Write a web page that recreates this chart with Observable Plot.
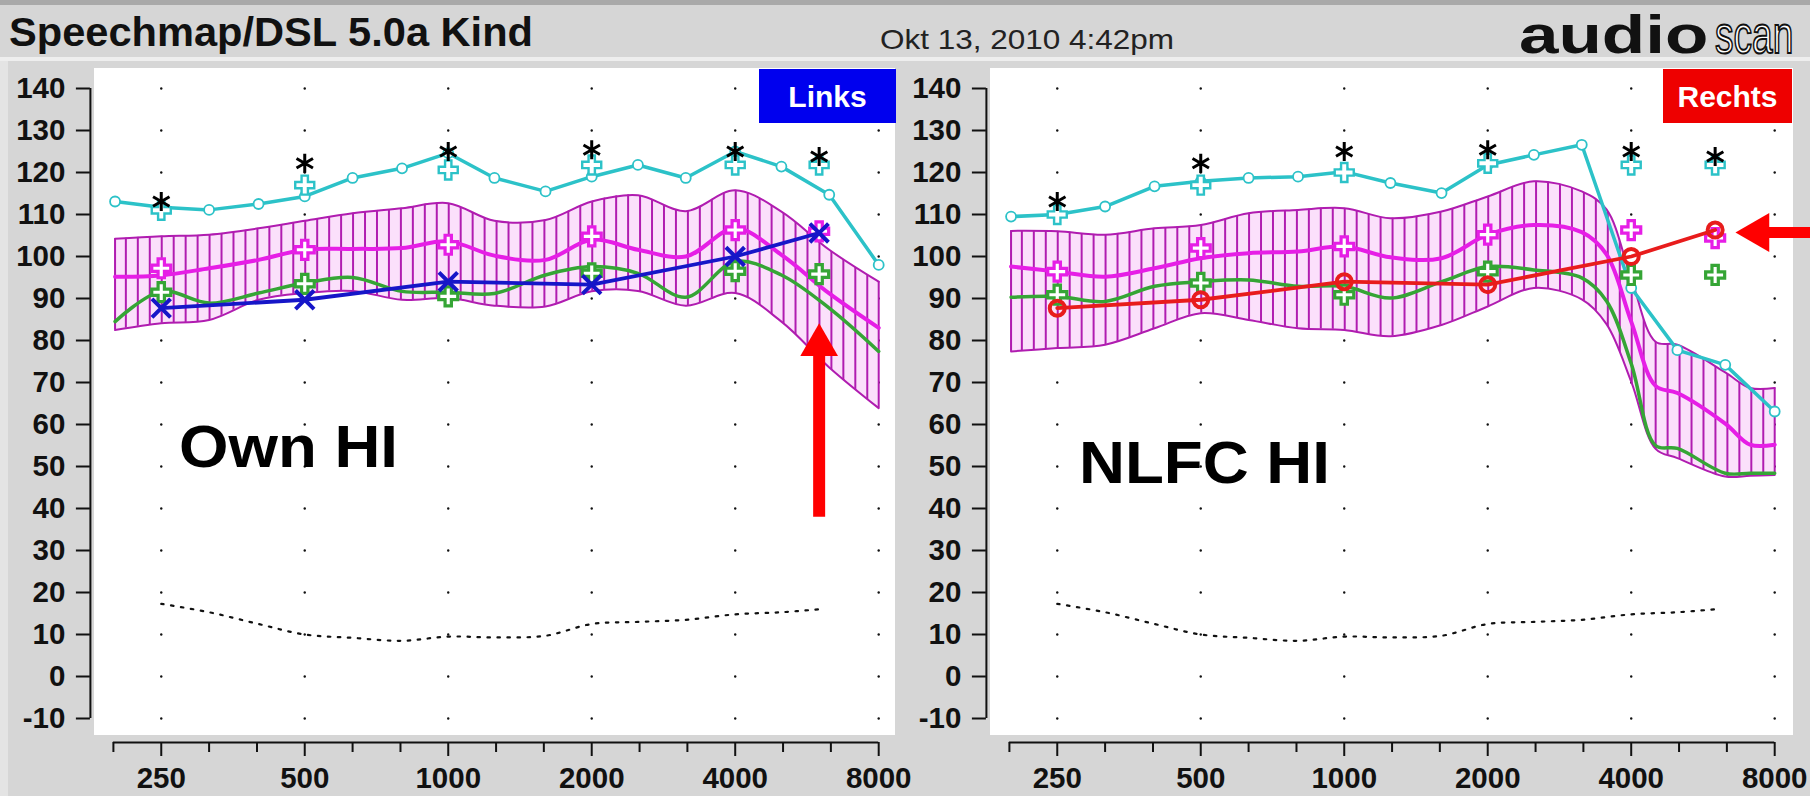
<!DOCTYPE html>
<html><head><meta charset="utf-8">
<script src="https://cdn.jsdelivr.net/npm/d3@7"></script>
<script src="https://cdn.jsdelivr.net/npm/@observablehq/plot@0.6"></script>
<style>
html,body{margin:0;padding:0;}
body{width:1810px;height:796px;overflow:hidden;background:#d6d6d6;position:relative;font-family:"Liberation Sans",Arial,sans-serif;}
.abs{position:absolute;}
svg{display:block;}
</style></head><body>
<div class="abs" style="left:0;top:0;width:1810px;height:5px;background:#a9a9a9"></div>
<div class="abs" style="left:0;top:57px;width:1810px;height:4px;background:#eeeeee"></div>
<div class="abs" style="left:0;top:61px;width:8px;height:735px;background:#e4e4e4"></div>
<div class="abs" style="left:94px;top:68px;width:801px;height:667px;background:#fff"></div>
<div class="abs" style="left:990px;top:68px;width:803px;height:667px;background:#fff"></div>
<div id="left" class="abs" style="left:0;top:62px"></div>
<div id="right" class="abs" style="left:896px;top:62px"></div>
<svg id="overlay" class="abs" style="left:0;top:0;pointer-events:none" width="1810" height="796"></svg>
<script>
// ---------- DATA ----------
// 1/3-octave frequencies (Hz) of the measured curves
const thirdOct = [200, 250, 315, 400, 500, 630, 800, 1000, 1250, 1600, 2000, 2500, 3150, 4000, 5000, 6300, 8000];
const bandFreqR = [200, 250, 315, 400, 500, 630, 800, 1000, 1250, 1600, 2000, 2500, 3150, 3550, 4000, 4500, 5000, 6300, 7100, 8000];
// audiometric frequencies of the markers
const markerFreq = [250, 500, 1000, 2000, 4000, 6000];
// normal-hearing threshold (dotted), both panels
const threshFreq = [250, 315, 400, 500, 630, 800, 1000, 1250, 1600, 2000, 2500, 3150, 4000, 5000, 6000];
const threshold = [17.3, 15.3, 12.5, 10, 9.2, 8.5, 9.5, 9.3, 9.7, 12.5, 13, 13.5, 14.8, 15.3, 16];
// UCL asterisks, both panels
const ucl = [113.1, 122.2, 125, 125.4, 125, 123.8];

// Left panel ("Links", own HI)
const mpoLeft = [113.1, 111.7, 111.1, 112.5, 114.3, 118.7, 121, 124.6, 118.7, 115.5, 119, 121.8, 118.7, 125, 121.4, 114.7, 98];
const bandHiLeft = [104.2, 104.8, 105.2, 106.7, 108.5, 110.3, 111.5, 112.7, 108.5, 108.7, 113.1, 114.6, 110.8, 115.8, 110.7, 101.6, 94];
const bandLoLeft = [82.5, 84.1, 84.9, 89.7, 91.3, 91.8, 89.7, 90.1, 88.3, 88.1, 91.7, 91.8, 88.3, 91.3, 84.5, 73.6, 63.9];
const ltassLeft = [95.2, 95.5, 97.2, 99.2, 101.6, 101.8, 102, 103.6, 100.2, 99.2, 104, 101.6, 100, 106.7, 100.4, 91.2, 83];
const softLeft = [84.5, 91.7, 88.9, 91.3, 93.7, 95, 91.7, 91.5, 91.2, 95.6, 97.6, 96, 90.3, 98.8, 95.6, 87.7, 77.4];
const cyanPlusLeft = [111, 117, 120.6, 121.8, 121.8, 121.8];
const magPlusLeft = [97.2, 101.6, 102.8, 104.8, 106.3, 106];
const greenPlusLeft = [91.5, 93.5, 90.5, 96, 96.5, 95.8];
const aidedLeft = [87.7, 89.7, 94, 93.3, 100, 105.6];

// Right panel ("Rechts", NLFC HI)
const mpoRight = [109.5, 110, 111.9, 116.7, 117.9, 118.7, 119, 120.2, 117.5, 115.1, 121.8, 124.2, 126.6, 92.5, 77.7, 74.2, 63.1];
const bandHiRight = [106.1, 106, 105.2, 106.7, 107.5, 110.3, 111.1, 111.5, 109.1, 110.7, 114.3, 117.9, 115.5, 111.2, 94.8, 79.7, 79, 72.4, 68.7, 68.7];
const bandLoRight = [77.4, 78.2, 79, 82.9, 86.5, 84.9, 82.9, 82.5, 81, 83.7, 88.1, 92.5, 89.8, 83.9, 70.2, 54.2, 52, 47.6, 47.8, 48];
const ltassRight = [97.6, 96.4, 95.2, 97.2, 99.6, 100.8, 101.2, 102.4, 99.8, 99.6, 105.2, 107.5, 105.8, 100.5, 84.5, 69.2, 67.5, 60.2, 55.2, 55.2];
const softRight = [90.3, 90.5, 89.3, 92.9, 94, 94.4, 92.9, 92.9, 90.1, 94, 97.6, 96.8, 94.9, 89.4, 74.5, 55, 54.3, 48.4, 48.4, 48.4];
const cyanPlusRight = [110, 117, 120, 122.2, 121.8, 121.8];
const magPlusRight = [96.4, 102, 102.4, 105.2, 106.3, 104.4];
const greenPlusRight = [90.9, 93.7, 90.9, 96.4, 95.6, 95.6];
const aidedRight = [87.7, 89.7, 94, 93.3, 100, 106.3];

// axes
const xDomain = [198.4, 8000];
const xMajor = [250, 500, 1000, 2000, 4000, 8000];
const xMinor = [198.4, 315, 397, 630, 794, 1260, 1587, 2520, 3175, 5040, 6350];
const yTicks = [-10, 0, 10, 20, 30, 40, 50, 60, 70, 80, 90, 100, 110, 120, 130, 140];

// annotation arrows (data space)
const arrowLeft = [{f: 6000, from: 37.9, to: 76.4, head: 78.9}];
const arrowRight = [{v: 105.7, from: 7790, to: 9700, head: 7380}];

// ---------- STYLE ----------
const CYAN = "#2cc2c8", MAG = "#e61ee6", BAND = "#b01cb0", GREEN = "#35a535",
      BLUE = "#1616c8", RED = "#e81c1c", ARROW = "#ff0000";
const FONT = "'Liberation Sans', Arial, sans-serif";

const rows = (fs, vs) => fs.map((f, i) => ({f, v: vs[i]}));
const grid = xMajor.flatMap(f => yTicks.map(v => ({f, v})));

function addHatch(svg, id) {
  const ns = "http://www.w3.org/2000/svg";
  const defs = document.createElementNS(ns, "defs");
  const p = document.createElementNS(ns, "pattern");
  const step = 143.5 / 12;
  p.setAttribute("id", id);
  p.setAttribute("patternUnits", "userSpaceOnUse");
  p.setAttribute("width", step);
  p.setAttribute("height", 20);
  p.setAttribute("x", 112.9 % step);
  const r = document.createElementNS(ns, "rect");
  r.setAttribute("width", step); r.setAttribute("height", 20); r.setAttribute("fill", "#fbe0fb");
  const l = document.createElementNS(ns, "line");
  l.setAttribute("x1", 1); l.setAttribute("x2", 1); l.setAttribute("y1", 0); l.setAttribute("y2", 20);
  l.setAttribute("stroke", BAND); l.setAttribute("stroke-width", 2);
  p.appendChild(r); p.appendChild(l); defs.appendChild(p);
  svg.insertBefore(defs, svg.firstChild);
}

function panel(o) {
  const band = o.bandFreq.map((f, i) => ({f, lo: o.lo[i], hi: o.hi[i]}));
  const ends = [band[0], band[band.length - 1]];
  const mpo = rows(thirdOct, o.mpo);
  const aided = rows(markerFreq, o.aided);
  const curve = "catmull-rom";
  const marks = [
    Plot.dot(grid, {x: "f", y: "v", r: 1.2, fill: "#111", stroke: null}),
    Plot.areaY(band, {x: "f", y1: "lo", y2: "hi", fill: `url(#${o.id})`, curve}),
    Plot.line(band, {x: "f", y: "hi", stroke: BAND, strokeWidth: 2, curve}),
    Plot.line(band, {x: "f", y: "lo", stroke: BAND, strokeWidth: 2, curve}),
    Plot.ruleX(ends, {x: "f", y1: "lo", y2: "hi", stroke: BAND, strokeWidth: 2}),
    Plot.line(rows(threshFreq, threshold), {x: "f", y: "v", stroke: "#111", strokeWidth: 2.2, strokeDasharray: "2.5,7.5", curve}),
    Plot.line(rows(o.bandFreq, o.soft), {x: "f", y: "v", stroke: GREEN, strokeWidth: 3.5, curve}),
    Plot.line(rows(o.bandFreq, o.ltass), {x: "f", y: "v", stroke: MAG, strokeWidth: 4, curve}),
    Plot.line(mpo, {x: "f", y: "v", stroke: CYAN, strokeWidth: 3.5}),
    Plot.dot(mpo, {x: "f", y: "v", r: 5, stroke: CYAN, fill: "white", strokeWidth: 1.8}),
    Plot.dot(rows(markerFreq, o.cyanPlus), {x: "f", y: "v", symbol: "cross", r: 8, stroke: CYAN, fill: "white", strokeWidth: 2.4}),
    Plot.dot(rows(markerFreq, ucl), {x: "f", y: "v", symbol: "asterisk", r: 9, stroke: "#000", strokeWidth: 3}),
    Plot.dot(rows(markerFreq, o.greenPlus), {x: "f", y: "v", symbol: "cross", r: 8, stroke: GREEN, fill: "white", strokeWidth: 3.2}),
    Plot.dot(rows(markerFreq, o.magPlus), {x: "f", y: "v", symbol: "cross", r: 8, stroke: MAG, fill: "white", strokeWidth: 3.2}),
    Plot.line(aided, {x: "f", y: "v", stroke: o.aidedColor, strokeWidth: 3.8}),
    Plot.dot(aided, {x: "f", y: "v", symbol: o.aidedSymbol, r: o.aidedR, stroke: o.aidedColor, fill: "none", strokeWidth: 4}),
    // axes
    Plot.ruleX([xDomain[0]], {y1: -10, y2: 140, dx: -23, stroke: "#111", strokeWidth: 2}),
    Plot.ruleY([-10], {x1: xDomain[0], x2: xDomain[1], dy: 24, stroke: "#111", strokeWidth: 2}),
    Plot.axisY({ticks: yTicks, anchor: "left", dx: -23, tickSize: 14, tickPadding: 11, strokeWidth: 2,
      fontSize: 29.5, fontWeight: "bold", label: null, tickFormat: d => String(d)}),
    Plot.axisX({ticks: xMinor, anchor: "bottom", dy: 24, tickSize: 10, strokeWidth: 2, text: null, label: null}),
    Plot.axisX({ticks: xMajor, anchor: "bottom", dy: 24, tickSize: 14, strokeWidth: 2, text: null, label: null}),
    Plot.text(xMajor, {x: d => d, text: d => String(d), frameAnchor: "bottom", lineAnchor: "top", dy: 49,
      fontSize: 29.5, fontWeight: "bold", fill: "#111"}),
    ...o.arrows
  ];
  const svg = Plot.plot({
    width: o.width, height: 734,
    marginLeft: 112.9, marginRight: o.width - 878.2, marginTop: 26, marginBottom: 78,
    x: {type: "log", domain: xDomain, range: [112.9, 878.2]},
    y: {domain: [-10, 140], range: [656, 26]},
    style: {background: "transparent", fontFamily: FONT, color: "#111", maxWidth: "none", overflow: "visible"},
    marks
  });
  addHatch(svg, o.id);
  return svg;
}

document.getElementById("left").appendChild(panel({
  id: "hatchL", width: 896, bandFreq: thirdOct,
  mpo: mpoLeft, hi: bandHiLeft, lo: bandLoLeft, ltass: ltassLeft, soft: softLeft,
  cyanPlus: cyanPlusLeft, magPlus: magPlusLeft, greenPlus: greenPlusLeft,
  aided: aidedLeft, aidedColor: BLUE, aidedSymbol: "times", aidedR: 8.5,
  arrows: [
    Plot.ruleX(arrowLeft, {x: "f", y1: "from", y2: "to", stroke: ARROW, strokeWidth: 12}),
    Plot.dot(arrowLeft, {x: "f", y: "head", symbol: "triangle", r: 14, fill: ARROW, stroke: null})
  ]
}));
document.getElementById("right").appendChild(panel({
  id: "hatchR", width: 914, bandFreq: bandFreqR,
  mpo: mpoRight, hi: bandHiRight, lo: bandLoRight, ltass: ltassRight, soft: softRight,
  cyanPlus: cyanPlusRight, magPlus: magPlusRight, greenPlus: greenPlusRight,
  aided: aidedRight, aidedColor: RED, aidedSymbol: "circle", aidedR: 7.5,
  arrows: [
    Plot.ruleY(arrowRight, {y: "v", x1: "from", x2: "to", stroke: ARROW, strokeWidth: 11}),
    Plot.dot(arrowRight, {x: "head", y: "v", symbol: "triangle", rotate: -90, r: 14.5, fill: ARROW, stroke: null})
  ]
}));

// ---------- TEXT OVERLAY ----------
const ov = document.getElementById("overlay");
ov.innerHTML = `
  <g font-family="${FONT}">
    <text x="9" y="46" font-size="41" font-weight="bold" fill="#111" textLength="524" lengthAdjust="spacingAndGlyphs">Speechmap/DSL 5.0a Kind</text>
    <text x="880" y="49" font-size="28" fill="#222" textLength="294" lengthAdjust="spacingAndGlyphs">Okt 13, 2010 4:42pm</text>
    <text transform="translate(1519 53) scale(1.34 1)" font-size="53" font-weight="bold" fill="#111">audio</text>
    <text transform="translate(1715 53) scale(0.7 1)" font-size="53" fill="#fff" stroke="#111" stroke-width="2">scan</text>
    <rect x="759" y="69" width="137" height="54" fill="#0000ee"/>
    <text x="827.5" y="107" font-size="30" font-weight="bold" fill="#fff" text-anchor="middle">Links</text>
    <rect x="1663" y="69" width="129" height="54" fill="#ee0000"/>
    <text x="1727.5" y="107" font-size="30" font-weight="bold" fill="#fff" text-anchor="middle">Rechts</text>
    <text x="179" y="467" font-size="60" font-weight="bold" fill="#000" textLength="219" lengthAdjust="spacingAndGlyphs">Own HI</text>
    <text x="1079" y="483" font-size="60" font-weight="bold" fill="#000" textLength="251" lengthAdjust="spacingAndGlyphs">NLFC HI</text>
  </g>`;
</script>
</body></html>
